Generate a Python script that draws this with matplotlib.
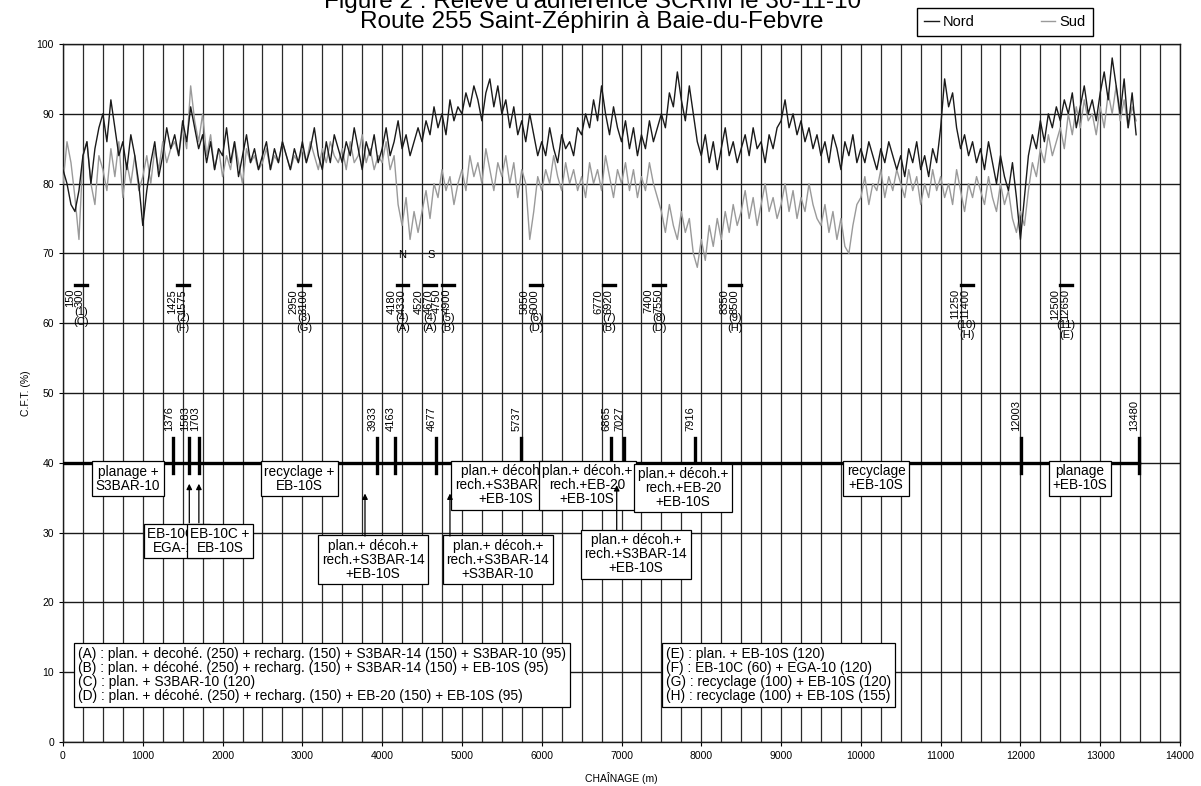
import matplotlib
matplotlib.use("Agg")
import matplotlib.pyplot as plt
import numpy as np
from matplotlib.lines import Line2D

plt.rcParams["font.family"] = ["Liberation Sans", "DejaVu Sans"]

# chaînage (m), one reading every 50 m
chainage = np.arange(0, 13500, 50)

nord = [
    82, 80, 77, 76, 79, 84, 86, 80, 85, 88,
    90, 86, 92, 88, 84, 86, 82, 87, 84, 80,
    74, 79, 83, 86, 81, 84, 88, 85, 87, 84,
    89, 86, 91, 88, 85, 87, 83, 86, 82, 85,
    84, 88, 83, 86, 81, 84, 87, 83, 85, 82,
    84, 86, 82, 85, 83, 86, 84, 82, 85, 83,
    86, 83, 85, 88, 84, 82, 86, 83, 87, 85,
    83, 86, 84, 88, 85, 82, 86, 84, 87, 83,
    85, 88, 84, 86, 89, 85, 87, 84, 86, 88,
    86, 89, 87, 91, 88, 90, 87, 92, 89, 91,
    90, 93, 91, 94, 92, 89, 93, 95, 91, 94,
    90, 92, 88, 91, 87, 89, 86, 90, 87, 84,
    86, 84, 88, 85, 83, 87, 85, 86, 84, 88,
    87, 90, 88, 92, 89, 94, 90, 87, 91, 88,
    86, 89, 85, 88, 84, 87, 85, 89, 86, 88,
    90, 88, 93, 91, 96, 92, 89, 94, 90, 86,
    84, 87, 83, 86, 82, 85, 88, 84, 86, 83,
    85, 87, 84, 88, 85, 86, 83, 87, 85, 88,
    89, 92, 88, 90, 87, 89, 86, 88, 85, 87,
    84, 86, 83, 87, 85, 82, 86, 84, 87, 83,
    85, 83, 86, 84, 82, 85, 83, 86, 84, 82,
    84, 81, 85, 83, 86, 82, 84, 81, 85, 83,
    88, 95, 91, 93, 88, 85, 87, 84, 86, 83,
    85, 82, 86, 83, 80, 84, 81, 79, 83, 78,
    72, 78, 84, 87, 85, 89, 86, 90, 88, 91,
    89, 92, 90, 93, 88, 91, 94, 90, 92, 89,
    93, 96, 92, 98, 94, 90, 95, 88, 93, 87,
]

sud = [
    80, 86, 83, 78, 72, 84, 86, 80, 77, 84,
    82, 79, 85, 81, 86, 78, 83, 80, 84, 79,
    81, 84, 80, 85, 82, 86, 83, 85, 86, 84,
    88, 85, 94, 89, 86, 90, 84, 87, 82, 85,
    81, 84, 82, 86, 83, 80, 85, 83, 84, 82,
    83, 85, 82, 84, 83, 86, 84, 82, 84, 83,
    85, 83, 86, 84, 82, 85, 83, 86, 84, 83,
    85, 82, 86, 83, 84, 87, 83, 85, 82, 84,
    83, 86, 82, 84, 77, 74, 78, 72, 76, 73,
    76, 79, 75, 80, 78, 82, 79, 81, 77, 80,
    82, 79, 84, 81, 83, 80, 85, 82, 79, 83,
    81, 84, 80, 83, 78, 82, 80, 72, 76, 81,
    79, 82, 80, 84, 81, 79, 83, 80, 82, 79,
    81, 78, 83, 80, 82, 79, 84, 81, 78, 82,
    80, 83, 79, 82, 78, 81, 79, 83, 80, 78,
    76, 73, 77, 74, 72, 76, 73, 75, 70, 68,
    72, 69, 74, 71, 75, 72, 76, 73, 77, 74,
    76, 79, 75, 78, 74, 77, 80, 76, 78, 75,
    77, 80, 76, 79, 75, 78, 76, 80, 77, 75,
    74, 77, 73, 76, 72, 75, 71, 70, 74, 77,
    78, 81, 77, 80, 79, 82, 78, 81, 79, 82,
    80, 78, 82, 79, 81, 77, 80, 78, 82, 79,
    81, 78, 80, 77, 82, 79, 76, 80, 78, 81,
    79, 77, 81, 78, 76, 80, 77, 79, 75, 73,
    76, 74, 79, 83, 81, 85, 83, 87, 84, 86,
    88, 85, 90, 87, 91, 88, 92, 89, 90, 87,
    91, 88, 93, 90, 94, 89, 92, 88, 91, 89,
]

# limits of the works zones on the C.F.T. = 40 line
zone_limits = [1376, 1583, 1703, 3933, 4163, 4677, 5737, 6865, 7027, 7916, 12003, 13480]
zone_level = 40

# test sections (start, end) with section number and treatment code
section_start = [150, 1425, 2950, 4180, 4520, 4750, 5850, 6770, 7400, 8350, 11250, 12500]
section_end = [300, 1575, 3100, 4330, 4670, 4900, 6000, 6920, 7550, 8500, 11400, 12650]
section_num = ["1", "2", "3", "4", "4", "5", "6", "7", "8", "9", "10", "11"]
section_code = ["C", "F", "G", "A", "A", "B", "D", "B", "D", "H", "H", "E"]
section_level = 65.5

# treatment boxes: text, x centre (m), y centre (C.F.T.)
box_text = [
    "planage +\nS3BAR-10",
    "EB-10C +\nEGA-10",
    "EB-10C +\nEB-10S",
    "recyclage +\nEB-10S",
    "plan.+ décoh.+\nrech.+S3BAR-14\n+EB-10S",
    "plan.+ décoh.+\nrech.+S3BAR-14\n+S3BAR-10",
    "plan.+ décoh.+\nrech.+S3BAR-14\n+EB-10S",
    "plan.+ décoh.+\nrech.+EB-20\n+EB-10S",
    "plan.+ décoh.+\nrech.+EB-20\n+EB-10S",
    "plan.+ décoh.+\nrech.+S3BAR-14\n+EB-10S",
    "recyclage\n+EB-10S",
    "planage\n+EB-10S",
]
box_x = [815, 1430, 1967, 2960, 3885, 5451, 5555, 6570, 7770, 7180, 10190, 12745]
box_y = [37.7, 28.8, 28.8, 37.7, 26.1, 26.1, 36.8, 36.8, 36.4, 26.9, 37.8, 37.8]

# arrows from boxes up to their zone limit
arrow_x = [1583, 1703, 3785, 4850, 6940]
arrow_from = [31.4, 31.4, 29.5, 29.5, 30.3]
arrow_to = [37.0, 37.0, 35.6, 35.6, 36.8]

legend_left = [
    "(A) : plan. + decohé. (250) + recharg. (150) + S3BAR-14 (150) + S3BAR-10 (95)",
    "(B) : plan. + décohé. (250) + recharg. (150) + S3BAR-14 (150) + EB-10S (95)",
    "(C) : plan. + S3BAR-10 (120)",
    "(D) : plan. + décohé. (250) + recharg. (150) + EB-20 (150) + EB-10S (95)",
]
legend_right = [
    "(E) : plan. + EB-10S (120)",
    "(F) : EB-10C (60) + EGA-10 (120)",
    "(G) : recyclage (100) + EB-10S (120)",
    "(H) : recyclage (100) + EB-10S (155)",
]

fig = plt.figure(figsize=(12.01, 7.86), dpi=100)
ax = fig.add_axes([63 / 1201, 44 / 786, 1117 / 1201, 698 / 786])

nord_colour = "#1a1a1a"
sud_colour = "#9a9a9a"
ax.plot(chainage, sud, color=sud_colour, lw=1.0, zorder=3)
ax.plot(chainage, nord, color=nord_colour, lw=1.0, zorder=3)

ax.set_xlim(0, 14000)
ax.set_ylim(0, 100)
ax.set_xticks(np.arange(0, 14001, 1000))
ax.set_xticks(np.arange(0, 14001, 250), minor=True)
ax.set_yticks(np.arange(0, 101, 10))
ax.grid(axis="x", which="both", color="#2a2a2a", lw=0.9)
ax.grid(axis="y", which="major", color="#1a1a1a", lw=1.0)
ax.tick_params(axis="both", which="major", labelsize=7.5, length=3, width=0.8)
ax.tick_params(axis="x", which="minor", length=0)
for s in ax.spines.values():
    s.set_color("#1a1a1a")
    s.set_linewidth(1.0)

ax.set_xlabel("CHAÎNAGE (m)", fontsize=7.5, labelpad=8)
ax.set_ylabel("C.F.T. (%)", fontsize=7.5, labelpad=4)

# works zones line and limits
ax.plot([0, zone_limits[-1]], [zone_level, zone_level], color="black", lw=2.4, zorder=4)
for c in zone_limits:
    ax.plot([c, c], [zone_level - 1.5, zone_level + 3.5], color="black", lw=2.4, zorder=4)
    ax.annotate(str(c), xy=(c, zone_level + 3.5), xytext=(-3, 5),
                textcoords="offset points", rotation=90, ha="center", va="bottom",
                fontsize=8, zorder=5)

# test sections
for s, e, n, code in zip(section_start, section_end, section_num, section_code):
    ax.plot([s, e], [section_level, section_level], color="black", lw=2.4, zorder=4)
    ax.annotate(f"{s}\n{e}", xy=(s, section_level), xytext=(0, -3),
                textcoords="offset points", rotation=90, ha="center", va="top",
                fontsize=8, linespacing=1.0, zorder=5)
    nchar = max(len(str(s)), len(str(e)))
    ax.annotate(f"({n})\n({code})", xy=((s + e) / 2, section_level),
                xytext=(0, -2 - 4.6 * nchar), textcoords="offset points",
                ha="center", va="top", fontsize=8, linespacing=1.0, zorder=5)

ax.text(4250, 69.8, "N", fontsize=8, ha="center", va="center")
ax.text(4620, 69.8, "S", fontsize=8, ha="center", va="center")

# treatment boxes
for i, (txt, bx, by) in enumerate(zip(box_text, box_x, box_y)):
    ax.text(bx, by, txt, ha="center", va="center", fontsize=9.8, linespacing=1.0,
            zorder=6 + i * 0.01,
            bbox=dict(boxstyle="square,pad=0.25", fc="white", ec="black", lw=0.9))

for x0, y0, y1 in zip(arrow_x, arrow_from, arrow_to):
    ax.annotate("", xy=(x0, y1), xytext=(x0, y0), zorder=7,
                arrowprops=dict(arrowstyle="-|>", color="black", lw=0.9,
                                mutation_scale=8, shrinkA=0, shrinkB=0))

# code legends
ax.text(190, 9.6, "\n".join(legend_left), ha="left", va="center", fontsize=9.9,
        linespacing=1.0, zorder=6,
        bbox=dict(boxstyle="square,pad=0.3", fc="white", ec="black", lw=0.9))
ax.text(7560, 9.6, "\n".join(legend_right), ha="left", va="center", fontsize=9.9,
        linespacing=1.0, zorder=6,
        bbox=dict(boxstyle="square,pad=0.3", fc="white", ec="black", lw=0.9))

# titles
fig.text(0.493, 1 - 2 / 786, "Figure 2 : Relevé d'adhérence SCRIM le 30-11-10",
         ha="center", va="center", fontsize=17.5)
fig.text(0.493, 1 - 22 / 786, "Route 255 Saint-Zéphirin à Baie-du-Febvre",
         ha="center", va="center", fontsize=17.5)

handles = [Line2D([], [], color=nord_colour, lw=1.0),
           Line2D([], [], color=sud_colour, lw=1.0)]
fig.legend(handles, ["Nord", "Sud"], loc="center",
           bbox_to_anchor=(1005 / 1201, 1 - 22 / 786), ncol=2, fontsize=10.5,
           frameon=True, fancybox=False, edgecolor="black", framealpha=1,
           handlelength=1.0, handletextpad=0.3, columnspacing=4.5,
           borderpad=0.5, borderaxespad=0)

fig.savefig("out.png", dpi=100)
